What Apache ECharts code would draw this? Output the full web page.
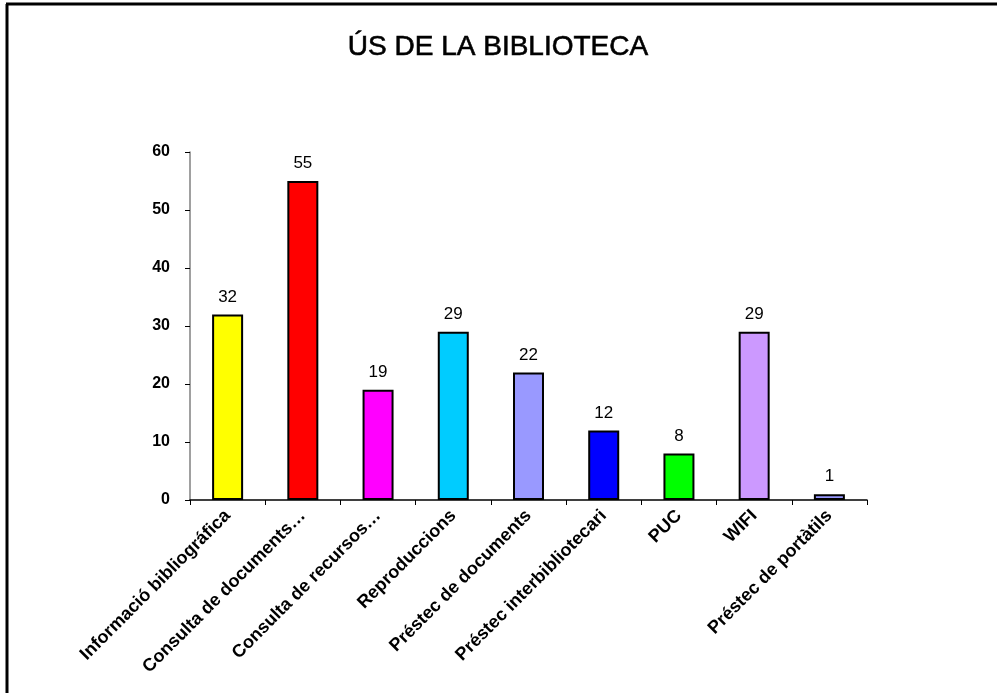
<!DOCTYPE html>
<html>
<head>
<meta charset="utf-8">
<script src="https://cdn.jsdelivr.net/npm/echarts@6/dist/echarts.min.js"></script>
<style>html,body{margin:0;padding:0;background:#fff}#c{width:997px;height:693px}</style>
</head>
<body>
<div id="c"></div>
<script>
const titleText = 'ÚS DE LA BIBLIOTECA';
const categories = ['Informació bibliográfica','Consulta de documents…','Consulta de recursos…','Reproduccions','Préstec de documents','Préstec interbibliotecari','PUC','WIFI','Préstec de portàtils'];
const values = [32, 55, 19, 29, 22, 12, 8, 29, 1];
const barColors = ['#FFFF00','#FF0000','#FF00FF','#00CCFF','#9999FF','#0000FF','#00FF00','#CC99FF','#9999FF'];
const yTicks = {min: 0, max: 60, interval: 10};

const chart = echarts.init(document.getElementById('c'), null, {renderer: 'canvas'});
const font = 'Arial, "Liberation Sans", Helvetica, sans-serif';
chart.setOption({
  animation: false,
  backgroundColor: '#fff',
  title: {
    text: titleText, left: 493, top: 28, textAlign: 'center',
    textStyle: {fontFamily: font, fontSize: 28, fontWeight: 'normal', color: '#000', textBorderColor: '#000', textBorderWidth: 0.6}
  },
  graphic: [
    {type: 'line', shape: {x1: 7, y1: 4, x2: 7, y2: 693}, style: {stroke: '#000', lineWidth: 3}},
    {type: 'line', shape: {x1: 6, y1: 4, x2: 997, y2: 4}, style: {stroke: '#000', lineWidth: 3}}
  ],
  grid: {left: 190, right: 130, top: 152, bottom: 193, containLabel: false},
  xAxis: {
    type: 'category', data: categories,
    axisLine: {lineStyle: {color: '#000', width: 1.5}},
    axisTick: {show: true, length: 5, alignWithLabel: false, lineStyle: {color: '#000'}},
    axisLabel: {rotate: 45, interval: 0, margin: 13, fontFamily: font, fontSize: 18, fontWeight: 'bold', color: '#000'}
  },
  yAxis: {
    type: 'value', min: yTicks.min, max: yTicks.max, interval: yTicks.interval,
    splitLine: {show: false},
    axisLine: {show: true, lineStyle: {color: '#808080', width: 1.5}},
    axisTick: {show: true, length: 5, lineStyle: {color: '#000'}},
    axisLabel: {margin: 20, fontFamily: font, fontSize: 16, fontWeight: 'bold', color: '#000'}
  },
  series: [{
    type: 'bar', barWidth: 31,
    data: values.map((v, i) => ({value: v, itemStyle: {color: barColors[i]}})),
    itemStyle: {borderColor: '#000', borderWidth: 2},
    label: {show: true, position: 'top', distance: 9, fontFamily: font, fontSize: 17, fontWeight: 'normal', color: '#000'}
  }]
});
</script>
</body>
</html>
